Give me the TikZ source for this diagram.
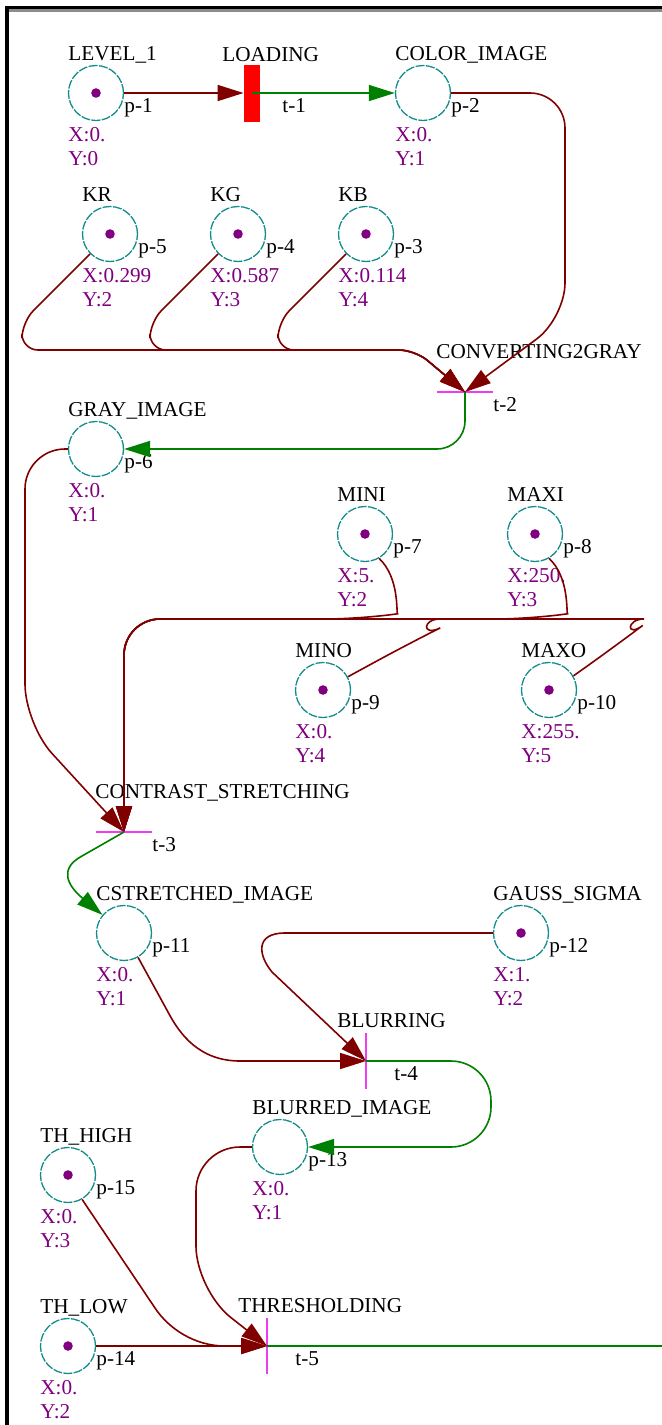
\documentclass[tikz,border=0pt]{standalone}
\usepackage{fontspec}
\setmainfont{Liberation Serif}
\usetikzlibrary{arrows.meta}

\definecolor{arcred}{RGB}{128,0,0}
\definecolor{arcgreen}{RGB}{0,128,0}
\definecolor{placeteal}{RGB}{20,140,140}
\definecolor{tokpurple}{RGB}{128,0,128}
\definecolor{barmagenta}{RGB}{240,60,240}
\definecolor{loadred}{RGB}{255,0,0}

\tikzset{
  place/.style={circle, draw=placeteal, line width=0.65pt,
    dash pattern=on 4.5pt off 0.7pt, minimum size=27.5pt, inner sep=0pt},
  lbl/.style={anchor=base west, inner sep=0pt, font=\fontsize{10.6}{12}\selectfont},
  val/.style={lbl, text=tokpurple},
  loadbar/.style={rectangle, fill=loadred, minimum width=8pt, minimum height=28.5pt, inner sep=0pt},
  hbar/.style={rectangle, fill=barmagenta, minimum width=28pt, minimum height=1pt, inner sep=0pt},
  vbar/.style={rectangle, fill=barmagenta, minimum width=1pt, minimum height=28pt, inner sep=0pt},
  arcR/.style={draw=arcred, line width=0.8pt, -{Triangle[length=13pt,width=8pt]}},
  arcG/.style={draw=arcgreen, line width=0.8pt, -{Triangle[length=13pt,width=8pt]}},
  arcGplain/.style={draw=arcgreen, line width=0.8pt},
}

% place: id, x, y, name, p-label, X value, Y value, token (1/0)
\newcommand{\petriplace}[8]{%
  \node[place] (#1) at (#2,#3) {};
  \node[lbl] (#1n) at ({#2-28},{#3-33}) {#4};
  \node[lbl] (#1p) at ({#2+28},{#3+19}) {#5};
  \node[val] (#1x) at ({#2-28},{#3+48}) {#6};
  \node[val] (#1y) at ({#2-28},{#3+72}) {#7};
  \ifnum#8=1 \fill[tokpurple] (#1.center) circle (2.4pt);\fi
}
% transition: id, x, y, bar style, name, t-label
\newcommand{\petritrans}[6]{%
  \node[#4] (#1) at (#2,#3) {};
  \node[lbl] (#1n) at ({#2-29},{#3-34}) {#5};
  \node[lbl] (#1l) at ({#2+28},{#3+19}) {#6};
}

\begin{document}
\begin{tikzpicture}[x=0.5pt, y=-0.5pt]
\useasboundingbox (0,0) rectangle (662,1425);

% window frame
\fill[black!45] (8,9) rectangle (662,11.5);
\fill[black] (5,6) rectangle (662,9);
\fill[black] (5,6) rectangle (8.5,1425);

% places
\petriplace{p1}{96}{93}{LEVEL\_1}{p-1}{X:0.}{Y:0}{1}
\petriplace{p2}{423}{93}{COLOR\_IMAGE}{p-2}{X:0.}{Y:1}{0}
\petriplace{p5}{110}{234}{KR}{p-5}{X:0.299}{Y:2}{1}
\petriplace{p4}{238}{234}{KG}{p-4}{X:0.587}{Y:3}{1}
\petriplace{p3}{366}{234}{KB}{p-3}{X:0.114}{Y:4}{1}
\petriplace{p6}{96}{449}{GRAY\_IMAGE}{p-6}{X:0.}{Y:1}{0}
\petriplace{p7}{365}{534}{MINI}{p-7}{X:5.}{Y:2}{1}
\petriplace{p8}{535}{534}{MAXI}{p-8}{X:250.}{Y:3}{1}
\petriplace{p9}{323}{690}{MINO}{p-9}{X:0.}{Y:4}{1}
\petriplace{p10}{549}{690}{MAXO}{p-10}{X:255.}{Y:5}{1}
\petriplace{p11}{124}{933}{CSTRETCHED\_IMAGE}{p-11}{X:0.}{Y:1}{0}
\petriplace{p12}{521}{933}{GAUSS\_SIGMA}{p-12}{X:1.}{Y:2}{1}
\petriplace{p13}{280}{1147}{BLURRED\_IMAGE}{p-13}{X:0.}{Y:1}{0}
\petriplace{p15}{68}{1175}{TH\_HIGH}{p-15}{X:0.}{Y:3}{1}
\petriplace{p14}{68}{1346}{TH\_LOW}{p-14}{X:0.}{Y:2}{1}

% transitions
\node[loadbar] (t1) at (252,93) {};
\node[lbl] (t1n) at (222,61) {LOADING};
\node[lbl] (t1l) at (282,112) {t-1};
\petritrans{t2}{465}{392}{hbar}{CONVERTING2GRAY}{t-2}
\petritrans{t3}{124}{832}{hbar}{CONTRAST\_STRETCHING}{t-3}
\petritrans{t4}{366}{1061}{vbar}{BLURRING}{t-4}
\petritrans{t5}{267}{1346}{vbar}{THRESHOLDING}{t-5}
\coordinate (sink) at (662,1346);

% arcs: loading
\draw[arcR] (p1) -- (t1.west);
\draw[arcG] (t1.center) -- (p2);

% arcs: gray conversion
\draw[arcR, rounded corners=17.5pt] (p2.east) -- (565,93) -- (565,318) -- (t2.center);
\draw[arcR, rounded corners=8pt] (p5.225) -- (22,322) -- (22,350) -- (415,350) -- (t2.center);
\draw[arcR, rounded corners=8pt] (p4.225) -- (150,322) -- (150,350) -- (415,350) -- (t2.center);
\draw[arcR, rounded corners=8pt] (p3.225) -- (278,322) -- (278,350) -- (415,350) -- (t2.center);
\draw[arcG, rounded corners=14pt] (t2.center) -- (465,449) -- (p6.east);

% arcs: contrast stretching
\draw[arcR, rounded corners=20pt] (p6.west) -- (25,449) -- (25,724) -- (t3.center);
\draw[arcR, rounded corners=18pt] (p7.300) .. controls (400,578) and (396,614) .. (362,619) -- (124,619) -- (t3.center);
\draw[arcR, rounded corners=18pt] (p8.300) .. controls (570,578) and (566,614) .. (532,619) -- (124,619) -- (t3.center);
\draw[arcR, rounded corners=18pt] (p9.28) -- (408,644) .. controls (422,637) and (422,619) .. (404,619) -- (124,619) -- (t3.center);
\draw[arcR, rounded corners=18pt] (p10.30) -- (614,647) .. controls (626,638) and (626,619) .. (608,619) -- (124,619) -- (t3.center);
\draw[arcG] (t3.center) -- (82,856) .. controls (58,869) and (68,886) .. (p11.140);

% arcs: blurring
\draw[arcR] (p11.300) -- (168,1012) .. controls (180,1035) and (200,1061) .. (240,1061) -- (t4.center);
\draw[arcR] (p12.west) -- (285,933) .. controls (255,933) and (258,955) .. (272,972) -- (t4.center);
\draw[arcG, rounded corners=20pt] (t4.center) -- (491,1061) -- (491,1147) -- (p13.east);

% arcs: thresholding
\draw[arcR, rounded corners=22pt] (p13.west) -- (196,1147) -- (196,1290) -- (t5.center);
\draw[arcR] (p15.300) -- (155,1308) .. controls (169,1329) and (195,1346) .. (225,1346) -- (t5.center);
\draw[arcR] (p14) -- (t5.center);
\draw[arcGplain] (t5.center) -- (sink);
\end{tikzpicture}
\end{document}
